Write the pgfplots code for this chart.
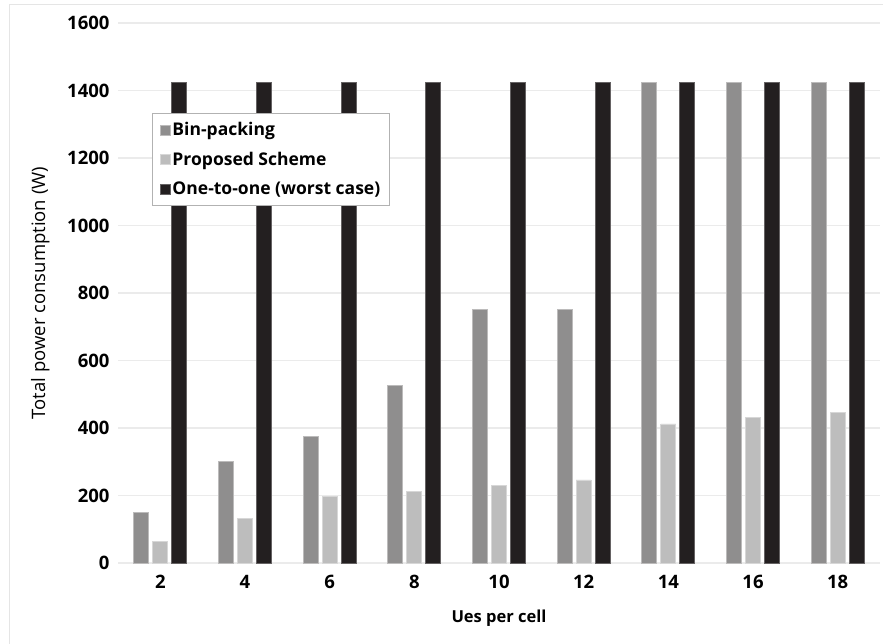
\documentclass[border=0pt]{standalone}
\usepackage{fontspec}
\setmainfont{Open Sans}
\usepackage{pgfplots}
\pgfplotsset{compat=1.18}
\definecolor{binc}{HTML}{8F8E8E}
\definecolor{propc}{HTML}{BDBDBD}
\definecolor{worstc}{HTML}{231F20}
\definecolor{gridc}{HTML}{EBEBEB}
\begin{document}
\begin{tikzpicture}
\useasboundingbox (-118pt,-80pt) rectangle (765pt,563pt);
\draw[black!10, line width=1pt] (-108pt,-100pt) -- (-108pt,558pt) -- (800pt,558pt);
\begin{axis}[
  scale only axis, width=762pt, height=540pt,
  xmin=1, xmax=19, ymin=0, ymax=1600,
  xtick={2,4,...,18}, ytick={0,200,...,1600},
  axis line style={draw=none}, major tick length=0pt,
  ymajorgrids, grid style={gridc, line width=1.2pt},
  /pgf/number format/assume math mode=true,
  /pgf/number format/1000 sep={},
  ticklabel style={font=\fontsize{18.5}{22}\selectfont\bfseries},
  xticklabel style={yshift=-9pt},
  yticklabel style={xshift=-5pt},
  xlabel={Ues per cell},
  ylabel={Total power consumption (W)},
  xlabel style={at={(axis description cs:0.5,-0.103)}, anchor=center, font=\fontsize{16.5}{19}\selectfont\bfseries},
  ylabel style={at={(axis description cs:-0.102,0.5)}, anchor=center, font=\fontsize{18.5}{22}\selectfont},
  legend style={at={(0.045,0.833)}, anchor=north west, draw=gray!60, line width=0.8pt,
    font=\fontsize{17.5}{21}\selectfont\bfseries, row sep=11pt, inner xsep=7pt, inner ysep=7pt},
  legend cell align=left,
  legend image code/.code={\fill[#1] (0pt,-5pt) rectangle (10pt,5pt);},
]
\addplot[ybar, bar width=15pt, bar shift=-19pt, fill=binc, draw=binc!60!white, line width=0.8pt]
  coordinates {(2,150) (4,300) (6,375) (8,525) (10,750) (12,750) (14,1425) (16,1425) (18,1425)};
\addlegendentry{Bin-packing}
\addplot[ybar, bar width=15pt, bar shift=0pt, fill=propc, draw=propc!60!white, line width=0.8pt]
  coordinates {(2,65) (4,132) (6,198) (8,213) (10,231) (12,246) (14,412) (16,431) (18,446)};
\addlegendentry{Proposed Scheme}
\addplot[ybar, bar width=15pt, bar shift=19pt, fill=worstc, draw=worstc!70!white, line width=0.8pt]
  coordinates {(2,1425) (4,1425) (6,1425) (8,1425) (10,1425) (12,1425) (14,1425) (16,1425) (18,1425)};
\addlegendentry{One-to-one (worst case)}
\end{axis}
\end{tikzpicture}
\end{document}
